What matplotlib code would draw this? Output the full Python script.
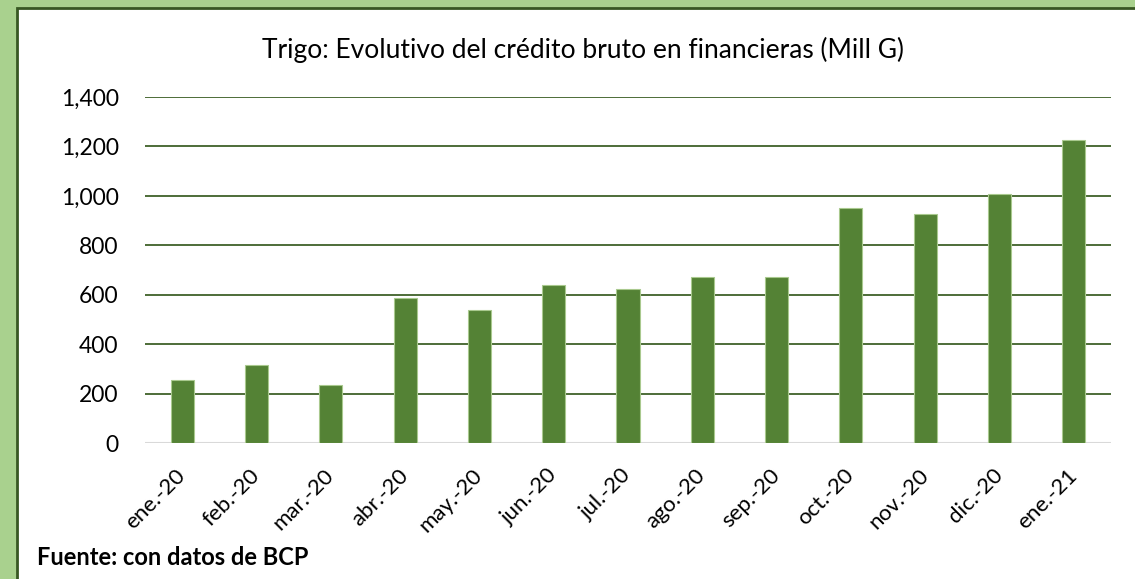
import matplotlib.pyplot as plt
from matplotlib.patches import Rectangle

months = ["ene.-20", "feb.-20", "mar.-20", "abr.-20", "may.-20", "jun.-20", "jul.-20",
          "ago.-20", "sep.-20", "oct.-20", "nov.-20", "dic.-20", "ene.-21"]
credito = [255, 315, 235, 585, 538, 639, 623, 670, 673, 951, 927, 1006, 1226]
yticks = [0, 200, 400, 600, 800, 1000, 1200, 1400]

plt.rcParams["font.family"] = ["Lato", "DejaVu Sans"]

W, H = 1135, 579
fig = plt.figure(figsize=(W / 100, H / 100), dpi=100, facecolor="#A9D18E")

# white chart panel with dark green border (left/top visible)
panel = Rectangle((17 / W, -0.05), 1.2, (H - 8) / H + 0.05, transform=fig.transFigure,
                  facecolor="white", edgecolor="#385723", linewidth=2, zorder=-10)
fig.patches.append(panel)

ax = fig.add_axes([145 / W, 136 / H, (1111 - 145) / W, 346 / H])
ax.set_zorder(1)
ax.set_facecolor("none")

x = range(len(months))
ax.bar(x, credito, width=0.31, color="#548235", edgecolor="#A9C98E", linewidth=0.8, zorder=3)

ax.set_xlim(-0.5, len(months) - 0.5)
ax.set_ylim(0, 1400)
ax.set_yticks(yticks)
ax.set_yticklabels([f"{v:,}" for v in yticks], fontsize=16.5)
for v in yticks[1:]:
    ax.axhline(v, color="#3F6129", linewidth=1.3, zorder=1)
ax.axhline(0, color="#D9D9D9", linewidth=1.5, zorder=2)

ax.set_xticks(list(x))
ax.set_xticklabels(months, fontsize=16, rotation=45, ha="right", va="center",
                   rotation_mode="anchor")
ax.tick_params(axis="both", length=0, colors="black")
ax.tick_params(axis="y", pad=19)
ax.tick_params(axis="x", pad=21)
for s in ax.spines.values():
    s.set_visible(False)

fig.text(583 / W, 1 - 50 / H, "Trigo: Evolutivo del crédito bruto en financieras (Mill G)",
         ha="center", va="center", fontsize=19)
fig.text(37 / W, 1 - 565 / H, "Fuente: con datos de BCP", ha="left", va="baseline",
         fontsize=17, fontweight="bold")

fig.savefig("out.png", dpi=100, facecolor=fig.get_facecolor())
